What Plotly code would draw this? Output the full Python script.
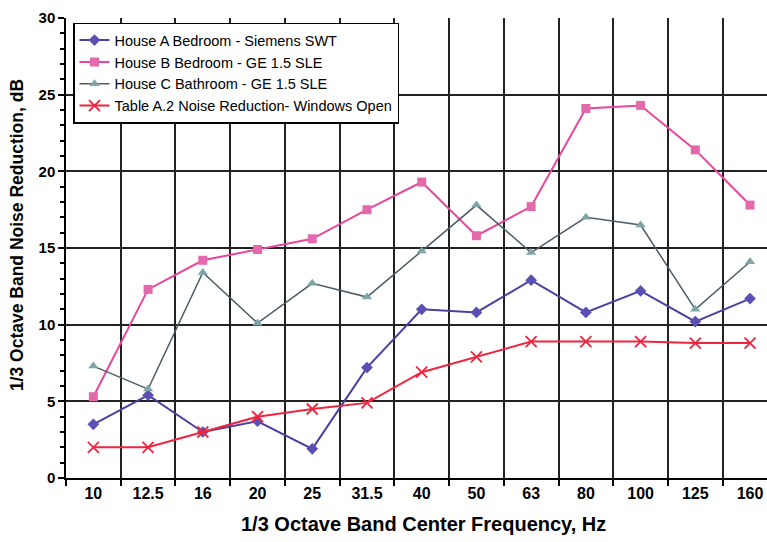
import plotly.graph_objects as go

freqs = ["10", "12.5", "16", "20", "25", "31.5", "40", "50", "63", "80", "100", "125", "160"]
house_a = [3.5, 5.4, 3.0, 3.7, 1.9, 7.2, 11.0, 10.8, 12.9, 10.8, 12.2, 10.2, 11.7]
house_b = [5.3, 12.3, 14.2, 14.9, 15.6, 17.5, 19.3, 15.8, 17.7, 24.1, 24.3, 21.4, 17.8]
house_c = [7.3, 5.8, 13.4, 10.1, 12.7, 11.8, 14.8, 17.8, 14.7, 17.0, 16.5, 11.0, 14.1]
table_a2 = [2.0, 2.0, 3.0, 4.0, 4.5, 4.9, 6.9, 7.9, 8.9, 8.9, 8.9, 8.8, 8.8]

names = ["House A Bedroom - Siemens SWT", "House B Bedroom - GE 1.5 SLE",
         "House C Bathroom - GE 1.5 SLE", "Table A.2 Noise Reduction- Windows Open"]

fig = go.Figure()
fig.add_trace(go.Scatter(x=freqs, y=house_a, name=names[0], mode="lines+markers",
                         line=dict(color="#4B3FA0", width=2),
                         marker=dict(symbol="diamond", size=9, color="#5A50B4")))
fig.add_trace(go.Scatter(x=freqs, y=house_b, name=names[1], mode="lines+markers",
                         line=dict(color="#E8479B", width=2),
                         marker=dict(symbol="square", size=9, color="#E469AC")))
fig.add_trace(go.Scatter(x=freqs, y=house_c, name=names[2], mode="lines+markers",
                         line=dict(color="#4D5C66", width=1.5),
                         marker=dict(symbol="triangle-up", size=9, color="#7FA5A8")))
fig.add_trace(go.Scatter(x=freqs, y=table_a2, name=names[3], mode="lines+markers",
                         line=dict(color="#F0243E", width=2),
                         marker=dict(symbol="x-thin-open", size=11, color="#F0243E",
                                     line=dict(color="#F0243E", width=1.8))))

fig.update_layout(
    width=767, height=542,
    margin=dict(l=66, r=0, t=18, b=64),
    paper_bgcolor="white", plot_bgcolor="white",
    font=dict(family="Liberation Sans, Arial, sans-serif", color="black"),
    showlegend=True,
    legend=dict(x=0.01, y=0.99, xanchor="left", yanchor="top",
                bgcolor="white", bordercolor="black", borderwidth=1.5,
                font=dict(size=14.5), itemwidth=30, tracegroupgap=0),
    xaxis=dict(type="category", range=[-0.5, 12.31], tickson="boundaries",
               automargin=False,
               ticks="outside", ticklen=6, tickcolor="black", tickwidth=1.5,
               showgrid=True, gridcolor="#222", gridwidth=1.5,
               showline=True, linecolor="black", linewidth=1.5,
               tickfont=dict(size=16, weight="bold")),
    yaxis=dict(range=[0, 30], dtick=5, ticks="outside", ticklen=6,
               automargin=False,
               tickcolor="black", tickwidth=1.5,
               showgrid=True, gridcolor="#222", gridwidth=1.5,
               showline=True, linecolor="black", linewidth=1.5, mirror=True,
               zeroline=False,
               minor=dict(dtick=1, ticks="outside", ticklen=4, tickcolor="black", showgrid=False),
               tickfont=dict(size=15, weight="bold")),
    annotations=[
        dict(text="<b>1/3 Octave Band Center Frequency, Hz</b>", xref="paper", yref="paper",
             x=0.51, y=0, yshift=-46, xanchor="center", yanchor="middle",
             showarrow=False, font=dict(size=20)),
        dict(text="<b>1/3 Octave Band Noise Reduction, dB</b>", xref="paper", yref="paper",
             x=0, xshift=-49, y=0.528, xanchor="center", yanchor="middle", textangle=-90,
             showarrow=False, font=dict(size=17.5)),
    ],
)

fig.write_html("out.html", config={"displayModeBar": False},
               post_script="document.body.style.margin='0';document.body.style.overflow='hidden';")
